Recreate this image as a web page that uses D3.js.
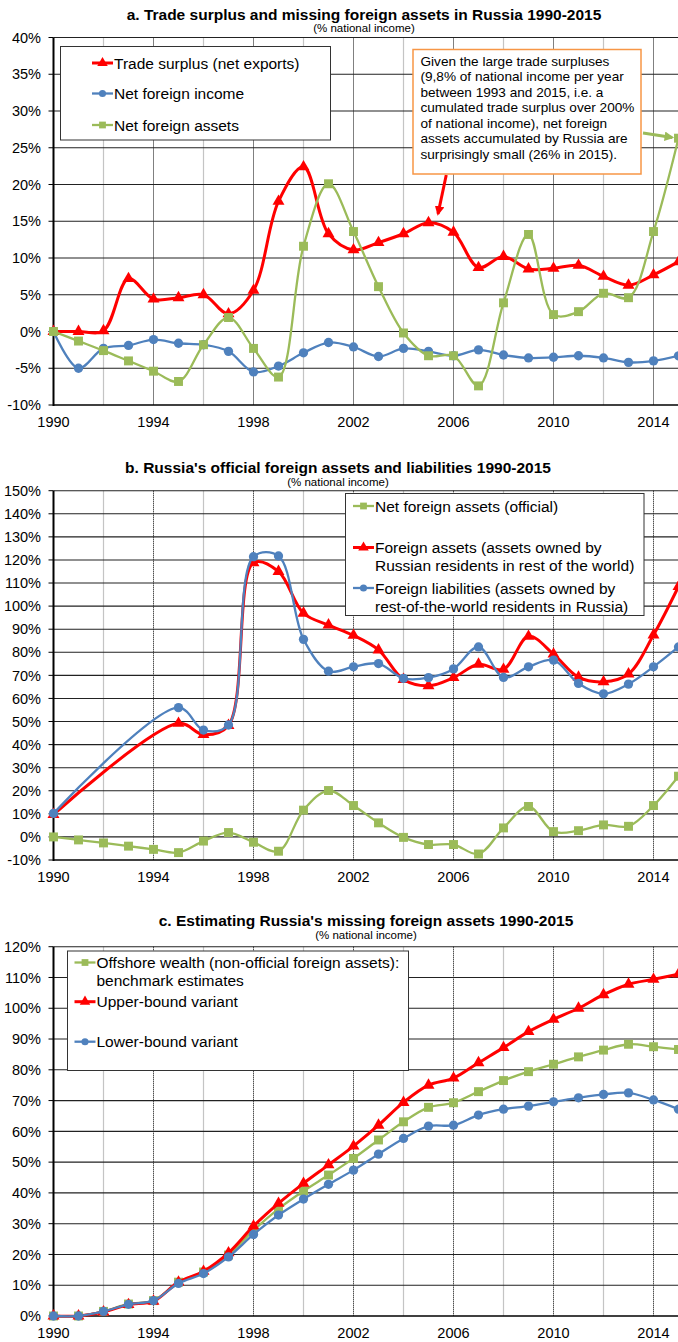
<!DOCTYPE html>
<html>
<head>
<meta charset="utf-8">
<script src="https://cdn.jsdelivr.net/npm/d3@7"></script>
<style>
body { margin: 0; background: #fff; }
svg { display: block; font-family: "Liberation Sans", Arial, sans-serif; }
</style>
</head>
<body>
<svg id="chart" width="678" height="1342"></svg>
<script>
// ---- data (% of national income) ----
var years = [1990, 1991, 1992, 1993, 1994, 1995, 1996, 1997, 1998, 1999, 2000, 2001, 2002,
	2003, 2004, 2005, 2006, 2007, 2008, 2009, 2010, 2011, 2012, 2013, 2014, 2015];

// panel a
var tradeSurplus = [0, 0, 0.1, 7.2, 4.4, 4.6, 5.0, 2.4, 5.6, 17.7, 22.4, 13.3, 11.1,
	12.1, 13.3, 14.8, 13.5, 8.7, 10.2, 8.5, 8.6, 9.0, 7.5, 6.3, 7.7, 9.5];
var netForeignIncome = [0, -5.0, -2.3, -1.9, -1.1, -1.6, -1.8, -2.7, -5.5, -4.7, -2.9, -1.5, -2.1,
	-3.4, -2.3, -2.7, -3.3, -2.5, -3.2, -3.6, -3.5, -3.3, -3.6, -4.2, -4.0, -3.3];
var netForeignAssets = [0, -1.3, -2.6, -4.0, -5.4, -6.8, -1.8, 1.9, -2.3, -6.2, 11.6, 20.1, 13.6,
	6.1, -0.2, -3.3, -3.3, -7.4, 3.9, 13.2, 2.3, 2.7, 5.2, 4.6, 13.6, 26.3];

// panel b (no figures for 1991-1994)
var foreignAssets = [9.7, null, null, null, null, 49.2, 44.3, 48.3, 118.8, 115.0, 96.9, 91.8, 87.3,
	81.0, 68.2, 65.5, 69.0, 74.8, 72.6, 86.9, 79.2, 69.2, 67.2, 70.6, 87.5, 108.5];
var foreignLiabilities = [10.2, null, null, null, null, 56.0, 46.3, 48.5, 121.4, 121.7, 85.6, 71.8, 73.7,
	75.1, 68.7, 69.0, 72.8, 82.3, 69.1, 73.7, 76.6, 66.5, 62.0, 66.2, 73.7, 82.3];

// panel c
var offshoreBenchmark = [0, 0, 1.5, 3.9, 5.0, 11.0, 14.3, 19.8, 27.8, 34.8, 40.6, 45.8, 51.2,
	57.2, 63.1, 67.8, 69.3, 72.9, 76.5, 79.4, 81.8, 84.2, 86.4, 88.3, 87.5, 86.6];
var upperBound = [0, 0, 1.3, 3.7, 4.8, 11.0, 14.5, 20.5, 29.2, 36.6, 43.1, 49.1, 55.2,
	62.0, 69.4, 75.0, 77.3, 82.3, 87.2, 92.4, 96.4, 100.0, 104.4, 107.8, 109.4, 111.1];
var lowerBound = [0, 0, 1.5, 3.8, 5.0, 10.6, 13.8, 19.2, 26.5, 32.8, 38.0, 42.8, 47.4,
	52.6, 57.7, 61.7, 62.0, 65.3, 67.2, 68.2, 69.6, 70.9, 72.0, 72.5, 70.2, 67.2];

// ticks
var xTickYears = [1990, 1994, 1998, 2002, 2006, 2010, 2014];
var lightGridYears = [1992, 1996, 2000, 2004, 2008, 2012];
var dottedGridYears = [1994, 1998, 2002, 2006, 2010, 2014];
var yTicksA = [-10, -5, 0, 5, 10, 15, 20, 25, 30, 35, 40];
var yTicksB = [-10, 0, 10, 20, 30, 40, 50, 60, 70, 80, 90, 100, 110, 120, 130, 140, 150];
var yTicksC = [0, 10, 20, 30, 40, 50, 60, 70, 80, 90, 100, 110, 120];

var annotationLines = [
	'Given the large trade surpluses',
	'(9,8% of national income per year',
	'between 1993 and 2015, i.e. a',
	'cumulated trade surplus over 200%',
	'of national income), net foreign',
	'assets accumulated by Russia are',
	'surprisingly small (26% in 2015).'
];

var RED = '#ff0000', BLUE = '#4f81bd', GREEN = '#9bbb59', ORANGE = '#f79646';

var svg = d3.select('#chart');

var x = d3.scaleLinear().domain([1990, 2015]).range([53.5, 678.5]);

var styles = {
	red: {color: RED, width: 3, symbol: d3.symbolTriangle, size: 62, lsize: 48},
	blue: {color: BLUE, width: 2.3, symbol: d3.symbolCircle, size: 68, lsize: 40},
	green: {color: GREEN, width: 2.3, symbol: d3.symbolSquare, size: 80, lsize: 46}
};

var defs = svg.append('defs');
[['arrRed', RED], ['arrGreen', GREEN]].forEach(function (a) {
	defs.append('marker')
		.attr('id', a[0])
		.attr('viewBox', '0 0 10 10')
		.attr('refX', 8).attr('refY', 5)
		.attr('markerWidth', 3.2).attr('markerHeight', 3.2)
		.attr('orient', 'auto')
		.append('path')
		.attr('d', 'M0,0L10,5L0,10z')
		.attr('fill', a[1]);
});

function drawPanel(p) {
	var y = d3.scaleLinear().domain([p.ticks[0], p.ticks[p.ticks.length - 1]]).range([p.bottom, p.top]);
	var g = svg.append('g');

	// title
	g.append('text')
		.attr('x', p.cx).attr('y', p.titleY)
		.attr('text-anchor', 'middle')
		.style('font-size', '15.5px').style('font-weight', 'bold')
		.text(p.title);
	g.append('text')
		.attr('x', p.cx).attr('y', p.subY)
		.attr('text-anchor', 'middle')
		.style('font-size', '11.5px')
		.text('(% national income)');

	// vertical grid
	g.selectAll('.vlight').data(lightGridYears).enter().append('line')
		.attr('x1', function (d) { return x(d); })
		.attr('x2', function (d) { return x(d); })
		.attr('y1', p.top).attr('y2', p.bottom)
		.style('stroke', '#c4c4c4').style('stroke-width', 1.2);
	g.selectAll('.vdot').data(dottedGridYears).enter().append('line')
		.attr('x1', function (d) { return x(d); })
		.attr('x2', function (d) { return x(d); })
		.attr('y1', p.top).attr('y2', p.bottom)
		.style('stroke', '#000').style('stroke-width', 1)
		.style('stroke-dasharray', '1,1');

	// horizontal grid
	g.selectAll('.hgrid').data(p.ticks.slice(1)).enter().append('line')
		.attr('x1', x(1990)).attr('x2', 678)
		.attr('y1', function (d) { return y(d); })
		.attr('y2', function (d) { return y(d); })
		.style('stroke', '#222').style('stroke-width', 1.1);

	// axes
	g.append('line')
		.attr('x1', x(1990)).attr('x2', 678)
		.attr('y1', p.bottom).attr('y2', p.bottom)
		.style('stroke', '#000').style('stroke-width', 1.5);
	g.append('line')
		.attr('x1', x(1990)).attr('x2', x(1990))
		.attr('y1', p.top).attr('y2', p.bottom + 1)
		.style('stroke', '#000').style('stroke-width', 2);
	g.selectAll('.ytick').data(p.ticks).enter().append('line')
		.attr('x1', x(1990) - 5).attr('x2', x(1990))
		.attr('y1', function (d) { return y(d); })
		.attr('y2', function (d) { return y(d); })
		.style('stroke', '#000').style('stroke-width', 1);

	g.selectAll('.ylab').data(p.ticks).enter().append('text')
		.attr('x', 41)
		.attr('y', function (d) { return y(d); })
		.attr('dy', '0.36em')
		.attr('text-anchor', 'end')
		.style('font-size', '14.5px')
		.text(function (d) { return d + '%'; });
	g.selectAll('.xlab').data(xTickYears).enter().append('text')
		.attr('x', function (d) { return x(d); })
		.attr('y', p.bottom + 22)
		.attr('text-anchor', 'middle')
		.style('font-size', '14.5px')
		.text(String);

	// series
	var line = d3.line()
		.x(function (d) { return x(d.year); })
		.y(function (d) { return y(d.v); })
		.curve(p.curve);

	p.series.forEach(function (s) {
		var st = styles[s.style];
		var pts = years.map(function (yr, i) { return {year: yr, v: s.values[i]}; })
			.filter(function (d) { return d.v !== null; });
		g.append('path')
			.datum(pts)
			.attr('d', line)
			.style('fill', 'none')
			.style('stroke', st.color)
			.style('stroke-width', st.width)
			.style('stroke-linejoin', 'round');
		g.selectAll(null).data(pts).enter().append('path')
			.attr('transform', function (d) { return 'translate(' + x(d.year) + ',' + y(d.v) + ')'; })
			.attr('d', d3.symbol().type(st.symbol).size(st.size))
			.style('fill', st.color);
	});

	// legend
	var L = p.legend;
	var lg = g.append('g');
	lg.append('rect')
		.attr('x', L.x).attr('y', L.y).attr('width', L.w).attr('height', L.h)
		.style('fill', '#fff').style('stroke', '#333').style('stroke-width', 1);
	L.items.forEach(function (it) {
		var st = styles[it.style];
		lg.append('line')
			.attr('x1', L.mx).attr('x2', L.mx + 21)
			.attr('y1', it.y).attr('y2', it.y)
			.style('stroke', st.color).style('stroke-width', st.width);
		lg.append('path')
			.attr('transform', 'translate(' + (L.mx + 10.5) + ',' + it.y + ')')
			.attr('d', d3.symbol().type(st.symbol).size(st.lsize))
			.style('fill', st.color);
		it.text.forEach(function (t, k) {
			lg.append('text')
				.attr('x', L.mx + 22)
				.attr('y', it.y + k * L.lh)
				.attr('dy', '0.36em')
				.style('font-size', L.fs + 'px')
				.text(t);
		});
	});

	return {g: g, y: y};
}

var curve = d3.curveCatmullRom.alpha(0.5);

var pa = drawPanel({
	title: 'a. Trade surplus and missing foreign assets in Russia 1990-2015',
	cx: 364, titleY: 19.5, subY: 31.5,
	top: 37.5, bottom: 405, ticks: yTicksA, curve: curve,
	series: [
		{values: tradeSurplus, style: 'red'},
		{values: netForeignIncome, style: 'blue'},
		{values: netForeignAssets, style: 'green'}
	],
	legend: {x: 60.5, y: 46.5, w: 270, h: 93.5, mx: 92, fs: 15.5, lh: 18, items: [
		{style: 'red', y: 63, text: ['Trade surplus (net exports)']},
		{style: 'blue', y: 93.5, text: ['Net foreign income']},
		{style: 'green', y: 125, text: ['Net foreign assets']}
	]}
});

// annotation for panel a
var ag = pa.g.append('g');
ag.append('line')
	.attr('x1', x(2005.71)).attr('y1', pa.y(21.3))
	.attr('x2', x(2005.38)).attr('y2', pa.y(16.0))
	.style('stroke', RED).style('stroke-width', 3)
	.attr('marker-end', 'url(#arrRed)');
ag.append('line')
	.attr('x1', x(2013.58)).attr('y1', pa.y(27.0))
	.attr('x2', x(2014.75)).attr('y2', pa.y(26.4))
	.style('stroke', GREEN).style('stroke-width', 3)
	.attr('marker-end', 'url(#arrGreen)');
ag.append('rect')
	.attr('x', 413).attr('y', 49.5).attr('width', 228).attr('height', 124.5)
	.style('fill', '#fff').style('stroke', ORANGE).style('stroke-width', 1.5);
ag.selectAll(null).data(annotationLines).enter().append('text')
	.attr('x', 420.5)
	.attr('y', function (d, i) { return 61 + i * 15.5; })
	.attr('dy', '0.36em')
	.style('font-size', '13.6px')
	.text(String);

drawPanel({
	title: 'b. Russia\'s official foreign assets and liabilities 1990-2015',
	cx: 338, titleY: 472.5, subY: 485.5,
	top: 490.7, bottom: 860, ticks: yTicksB, curve: curve,
	series: [
		{values: netForeignAssets, style: 'green'},
		{values: foreignAssets, style: 'red'},
		{values: foreignLiabilities, style: 'blue'}
	],
	legend: {x: 345.5, y: 493.5, w: 298.5, h: 122, mx: 353, fs: 15.5, lh: 18, items: [
		{style: 'green', y: 506, text: ['Net foreign assets (official)']},
		{style: 'red', y: 547.5, text: ['Foreign assets (assets owned by', 'Russian residents in rest of the world)']},
		{style: 'blue', y: 588, text: ['Foreign liabilities (assets owned by', 'rest-of-the-world residents in Russia)']}
	]}
});

drawPanel({
	title: 'c. Estimating Russia\'s missing foreign assets 1990-2015',
	cx: 366, titleY: 925.5, subY: 939,
	top: 946.7, bottom: 1316, ticks: yTicksC, curve: curve,
	series: [
		{values: offshoreBenchmark, style: 'green'},
		{values: upperBound, style: 'red'},
		{values: lowerBound, style: 'blue'}
	],
	legend: {x: 67.5, y: 951, w: 341, h: 119.5, mx: 74.5, fs: 15.5, lh: 17.7, items: [
		{style: 'green', y: 962.5, text: ['Offshore wealth (non-official foreign assets):', 'benchmark estimates']},
		{style: 'red', y: 1001.7, text: ['Upper-bound variant']},
		{style: 'blue', y: 1041.7, text: ['Lower-bound variant']}
	]}
});
</script>
</body>
</html>
